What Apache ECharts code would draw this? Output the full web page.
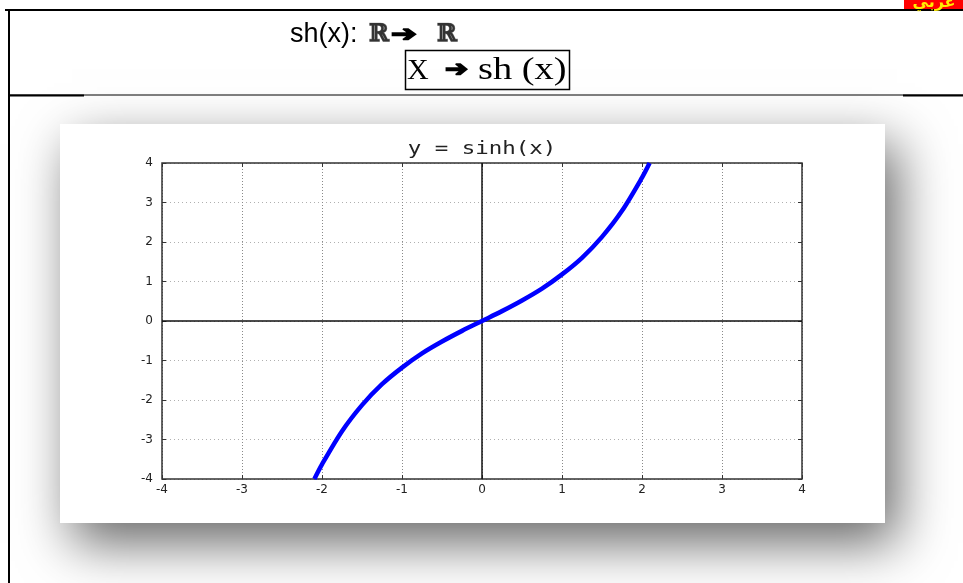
<!DOCTYPE html>
<html>
<head>
<meta charset="utf-8">
<script src="https://cdn.jsdelivr.net/npm/echarts@6/dist/echarts.min.js"></script>
<style>
  html, body { margin: 0; padding: 0; background: #fff; }
  #chart { width: 963px; height: 583px; }
</style>
</head>
<body>
<div id="chart"></div>
<script>
// Tick values shared by both axes
const tickValues = [-4, -3, -2, -1, 0, 1, 2, 3, 4];

// Sampled points of y = sinh(x)
const xValues = [-2.095, -2.0, -1.75, -1.5, -1.25, -1.0, -0.75, -0.5, -0.25, 0,
                 0.25, 0.5, 0.75, 1.0, 1.25, 1.5, 1.75, 2.0, 2.095];
const yValues = [-4.0, -3.63, -2.79, -2.13, -1.60, -1.18, -0.82, -0.52, -0.25, 0,
                 0.25, 0.52, 0.82, 1.18, 1.60, 2.13, 2.79, 3.63, 4.0];

// Header texts
const headerLine1 = 'sh(x):';
const headerSet = 'ℝ';
const arrow = '➔';
const headerLine2a = 'X';
const headerLine2b = 'sh (x)';
const plotTitle = 'y = sinh(x)';
const badgeText = 'عربي';

const points = xValues.map((x, i) => [x, yValues[i]]);
const tMin = tickValues[0];
const tMax = tickValues[tickValues.length - 1];

const chart = echarts.init(document.getElementById('chart'), null, { renderer: 'canvas' });

const labelStyle = { color: '#222', fontSize: 12, fontFamily: 'DejaVu Sans' };
const gridDots = { color: '#8a8a8a', width: 1, type: [1, 2] };

chart.setOption({
  animation: false,
  backgroundColor: '#ffffff',
  grid: {
    left: 162, top: 163, width: 640, height: 316,
    show: true, borderColor: '#333', borderWidth: 1.5,
    backgroundColor: 'transparent', z: 5
  },
  xAxis: [{
    type: 'value', min: tMin, max: tMax, interval: 1, position: 'bottom',
    axisLine: { show: false, onZero: false },
    axisTick: { show: true, inside: true, length: 4, lineStyle: { color: '#333' } },
    axisLabel: Object.assign({ margin: 5 }, labelStyle),
    splitLine: { show: true, lineStyle: gridDots }
  }, {
    type: 'value', min: tMin, max: tMax, interval: 1, position: 'top',
    axisLine: { show: false, onZero: false },
    axisTick: { show: true, inside: true, length: 4, lineStyle: { color: '#333' } },
    axisLabel: { show: false },
    splitLine: { show: false }
  }],
  yAxis: [{
    type: 'value', min: tMin, max: tMax, interval: 1, position: 'left',
    axisLine: { show: false, onZero: false },
    axisTick: { show: true, inside: true, length: 4, lineStyle: { color: '#333' } },
    axisLabel: Object.assign({ margin: 9 }, labelStyle),
    splitLine: { show: true, lineStyle: { color: '#b0b0b0', width: 1, type: [1, 3] } }
  }, {
    type: 'value', min: tMin, max: tMax, interval: 1, position: 'right',
    axisLine: { show: false, onZero: false },
    axisTick: { show: true, inside: true, length: 4, lineStyle: { color: '#333' } },
    axisLabel: { show: false },
    splitLine: { show: false }
  }],
  series: [{
    type: 'line',
    data: points,
    smooth: 0.3,
    showSymbol: false,
    clip: true,
    z: 10,
    lineStyle: { color: '#0000ff', width: 4.5 },
    markLine: {
      silent: true,
      symbol: 'none',
      label: { show: false },
      lineStyle: { color: '#111', width: 1.5, type: 'solid' },
      data: [{ xAxis: 0 }, { yAxis: 0 }]
    }
  }],
  graphic: [
    // card with drop shadow behind the plot
    {
      type: 'rect', z: -10,
      shape: { x: 60, y: 124, width: 825, height: 399 },
      style: { fill: '#ffffff', shadowBlur: 50, shadowOffsetX: 12, shadowOffsetY: 20, shadowColor: 'rgba(0,0,0,0.6)' }
    },
    // page rules
    { type: 'line', z: 20, shape: { x1: 5, y1: 10, x2: 963, y2: 10 }, style: { stroke: '#000', lineWidth: 2 } },
    { type: 'line', z: 20, shape: { x1: 9, y1: 10, x2: 9, y2: 583 }, style: { stroke: '#000', lineWidth: 2 } },
    { type: 'line', z: 20, shape: { x1: 9, y1: 95, x2: 963, y2: 95 }, style: { stroke: '#000', lineWidth: 1 } },
    { type: 'line', z: 20, shape: { x1: 9, y1: 95.5, x2: 84, y2: 95.5 }, style: { stroke: '#000', lineWidth: 2 } },
    { type: 'line', z: 20, shape: { x1: 903, y1: 95.5, x2: 963, y2: 95.5 }, style: { stroke: '#000', lineWidth: 2 } },
    // badge in the top right corner
    { type: 'rect', z: 20, shape: { x: 904, y: 0, width: 59, height: 9 }, style: { fill: '#ff0000' } },
    {
      type: 'text', z: 21, x: 934, y: 11,
      style: { text: badgeText, fill: '#ffee00', font: 'bold 16px "DejaVu Sans"', textAlign: 'center', textVerticalAlign: 'bottom' }
    },
    // header line 1
    {
      type: 'text', z: 20, x: 290, y: 35,
      style: { text: headerLine1, fill: '#000', font: '27px "Liberation Sans"', textVerticalAlign: 'middle' }
    },
    {
      type: 'text', z: 20, x: 369, y: 35,
      style: { text: headerSet, fill: '#333', stroke: '#999', lineWidth: 0.8, font: 'bold 24px "DejaVu Serif"', textVerticalAlign: 'middle' }
    },
    {
      type: 'text', z: 20, x: 391, y: 35, scaleX: 1.4,
      style: { text: arrow, fill: '#000', stroke: '#000', lineWidth: 1.6, font: 'bold 22px "DejaVu Sans"', textVerticalAlign: 'middle' }
    },
    {
      type: 'text', z: 20, x: 437, y: 35,
      style: { text: headerSet, fill: '#333', stroke: '#999', lineWidth: 0.8, font: 'bold 24px "DejaVu Serif"', textVerticalAlign: 'middle' }
    },
    // header line 2 in a box
    { type: 'rect', z: 20, shape: { x: 405.5, y: 50.5, width: 164, height: 39 }, style: { fill: 'none', stroke: '#000', lineWidth: 1.5 } },
    {
      type: 'text', z: 20, x: 407, y: 71,
      style: { text: headerLine2a, fill: '#000', font: '30px "Liberation Serif"', textVerticalAlign: 'middle' }
    },
    {
      type: 'text', z: 20, x: 445, y: 70, scaleX: 1.25,
      style: { text: arrow, fill: '#000', stroke: '#000', lineWidth: 1.6, font: 'bold 22px "DejaVu Sans"', textVerticalAlign: 'middle' }
    },
    {
      type: 'text', z: 20, x: 478, y: 71, scaleX: 1.2,
      style: { text: headerLine2b, fill: '#000', font: '32px "Liberation Serif"', textVerticalAlign: 'middle' }
    },
    // plot title
    {
      type: 'text', z: 20, x: 482, y: 150, scaleX: 1.32,
      style: { text: plotTitle, fill: '#222', font: '17px "DejaVu Sans Mono"', textAlign: 'center', textVerticalAlign: 'middle' }
    }
  ]
});
</script>
</body>
</html>
